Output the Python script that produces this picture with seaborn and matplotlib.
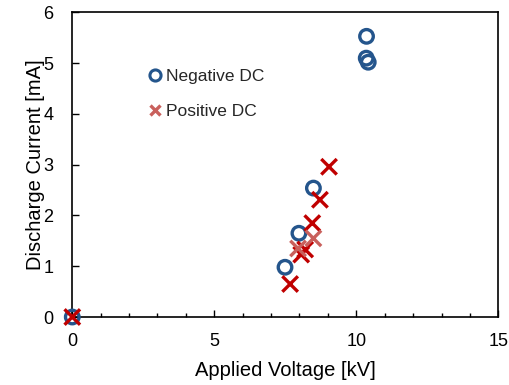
import matplotlib
matplotlib.use("Agg")
import matplotlib.pyplot as plt
from matplotlib.lines import Line2D
from matplotlib.ticker import MultipleLocator
import seaborn as sns
import pandas as pd

# Negative DC measurements
neg_voltage = [0.0, 7.49, 7.98, 8.49, 10.36, 10.35, 10.42]
neg_current = [0.0, 0.98, 1.65, 2.54, 5.53, 5.10, 5.02]

# Positive DC measurements
pos_voltage = [0.0, 7.67, 8.06, 8.20, 8.45, 8.72, 9.04, 7.95, 8.49]
pos_current = [0.0, 0.65, 1.23, 1.33, 1.85, 2.31, 2.96, 1.35, 1.55]
pos_shade = ["dark", "dark", "dark", "dark", "dark", "dark", "dark", "light", "light"]

x_ticks = [0, 5, 10, 15]
y_ticks = [0, 1, 2, 3, 4, 5, 6]

blue = "#24558C"
red_dark = "#C00000"
red_light = "#C9605C"

sns.set_theme(style="white")
plt.rcParams["font.family"] = ["Liberation Sans", "DejaVu Sans"]

fig = plt.figure(figsize=(5.09, 3.85), dpi=100)
ax = fig.add_axes([0.142, 0.1766, 0.837, 0.791])

neg = pd.DataFrame({"V": neg_voltage, "I": neg_current})
pos = pd.DataFrame({"V": pos_voltage, "I": pos_current, "shade": pos_shade})

sns.scatterplot(data=neg, x="V", y="I", ax=ax, marker="o", s=95,
                facecolor="none", edgecolor=blue, linewidth=2.4, zorder=3,
                clip_on=False)
sns.scatterplot(data=pos, x="V", y="I", hue="shade", ax=ax, marker="x", s=125,
                palette={"dark": red_dark, "light": red_light},
                linewidth=2.4, zorder=4, legend=False, clip_on=False)

ax.set_xlim(0, 15)
ax.set_ylim(0, 6)
ax.set_xticks(x_ticks)
ax.set_yticks(y_ticks)
ax.xaxis.set_minor_locator(MultipleLocator(1))
ax.tick_params(axis="both", which="major", direction="in", length=5, width=1,
               color="black", labelsize=13, labelcolor="black")
ax.tick_params(axis="x", which="major", bottom=True, pad=11.5)
ax.tick_params(axis="y", which="major", left=True, pad=13.5)
ax.tick_params(axis="x", which="minor", direction="in", length=3, width=1,
               color="black", bottom=True)

for sp in ax.spines.values():
    sp.set_visible(True)
    sp.set_color("black")
    sp.set_linewidth(1.2)

ax.set_xlabel("Applied Voltage [kV]", fontsize=14.5, color="black", labelpad=8)
ax.set_ylabel("Discharge Current [mA]", fontsize=14.5, color="black", labelpad=-1)

handles = [
    Line2D([], [], linestyle="none", marker="o", markersize=8, markerfacecolor="none",
           markeredgecolor=blue, markeredgewidth=2.2, label="Negative DC"),
    Line2D([], [], linestyle="none", marker="x", markersize=7,
           markeredgecolor=red_light, markeredgewidth=2.4, label="Positive DC"),
]
ax.legend(handles=handles, loc="upper left", bbox_to_anchor=(0.162, 0.844),
          frameon=False, fontsize=12.5, handlelength=0.6, handletextpad=0.3,
          labelspacing=1.18, borderpad=0)

fig.savefig("out.png", dpi=100)
